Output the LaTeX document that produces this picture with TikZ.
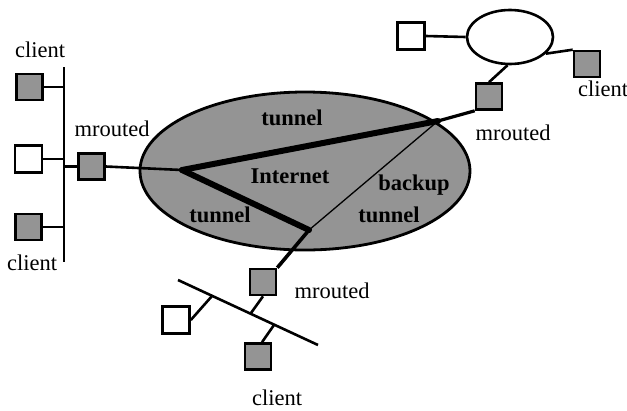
\documentclass[tikz,border=0pt]{standalone}
\usepackage{fontspec}
\setmainfont{Liberation Serif}
\usetikzlibrary{shapes.geometric}
\begin{document}
\begin{tikzpicture}[x=1pt,y=-1pt,
  graybox/.style={draw=black,line width=2.6pt,fill=black!42,minimum size=26pt,inner sep=0pt},
  whitebox/.style={draw=black,line width=2.6pt,fill=white,minimum size=27pt,inner sep=0pt},
  wire/.style={line width=2.6pt},
  tun/.style={line width=6pt,line cap=round},
  lbl/.style={font=\fontsize{22.5}{27}\selectfont,inner sep=0pt},
  blbl/.style={font=\fontsize{22.5}{27}\selectfont\bfseries,inner sep=0pt}]
\useasboundingbox (0,0) rectangle (627,410);
% big ellipse
\node[ellipse,draw=black,line width=2.8pt,fill=black!42,minimum width=330pt,minimum height=158pt,inner sep=0pt] (inet) at (305,171) {};
% left LAN
\coordinate (bt) at (64,67);
\coordinate (bb) at (64,262);
\draw[wire] (bt) -- (bb);
\node[graybox] (c1) at (29.5,87) {};
\node[whitebox] (w1) at (28.5,159) {};
\node[graybox] (c2) at (28.5,227) {};
\node[graybox] (m1) at (91.5,166.5) {};
\draw[wire] (c1.east) -- (c1.east -| bt);
\draw[wire] (w1.east) -- (w1.east -| bt);
\draw[wire] (c2.east) -- (c2.east -| bt);
\draw[wire] (m1.west) -- (m1.west -| bt);
\node[lbl] at (40,50) {client};
\node[lbl] at (32,263) {client};
\node[lbl] at (112,129) {mrouted};
% tunnel hubs
\coordinate (hubL) at (182,170);
\coordinate (hubB) at (309,230);
\coordinate (cross) at (438,121);
% upper right
\node[ellipse,draw=black,line width=2.6pt,fill=white,minimum width=86pt,minimum height=54pt,inner sep=0pt] (lan2) at (510,37) {};
\node[whitebox] (w2) at (411,36) {};
\node[graybox] (c3) at (587,64) {};
\node[graybox] (m2) at (489,96.5) {};
\draw[wire] (w2.east) -- (lan2.west);
\draw[wire] (lan2.-25) -- (c3.north west);
\draw[wire] (lan2.-95) -- (m2.north);
\node[lbl] at (603,89) {client};
\node[lbl] at (513,133) {mrouted};
% lower LAN
\coordinate (lb1) at (178,280);
\coordinate (lb2) at (318,345);
\draw[wire] (lb1) -- (lb2);
\node[whitebox] (w3) at (176,320) {};
\node[graybox] (c4) at (258,356.5) {};
\node[graybox] (m3) at (263,282) {};
\coordinate (j1) at (212,296);
\coordinate (j2) at (274,325);
\coordinate (j3) at (251,313);
\draw[wire] (w3.east) -- (j1);
\draw[wire] (c4.north) ++(4,0) -- (j2);
\draw[wire] (m3.south) -- (j3);
\node[lbl] at (332,291) {mrouted};
\node[lbl] at (277,398) {client};
% links into the cloud
\draw[wire] (m1.east) -- (hubL);
\draw[line width=3.2pt] (cross) -- (m2.south west);
\draw[line width=3.6pt] (hubB) -- (m3.north east);
\draw[line width=1.3pt] (hubB) -- (cross);
\draw[tun] (hubL) -- (cross);
\draw[tun] (hubL) -- (hubB);
% cloud labels
\node[blbl] at (292,118) {tunnel};
\node[blbl] at (290,176) {Internet};
\node[blbl] at (414,185) {backup};
\node[blbl] at (389,215) {tunnel};
\node[blbl] at (220,215) {tunnel};
\end{tikzpicture}
\end{document}
